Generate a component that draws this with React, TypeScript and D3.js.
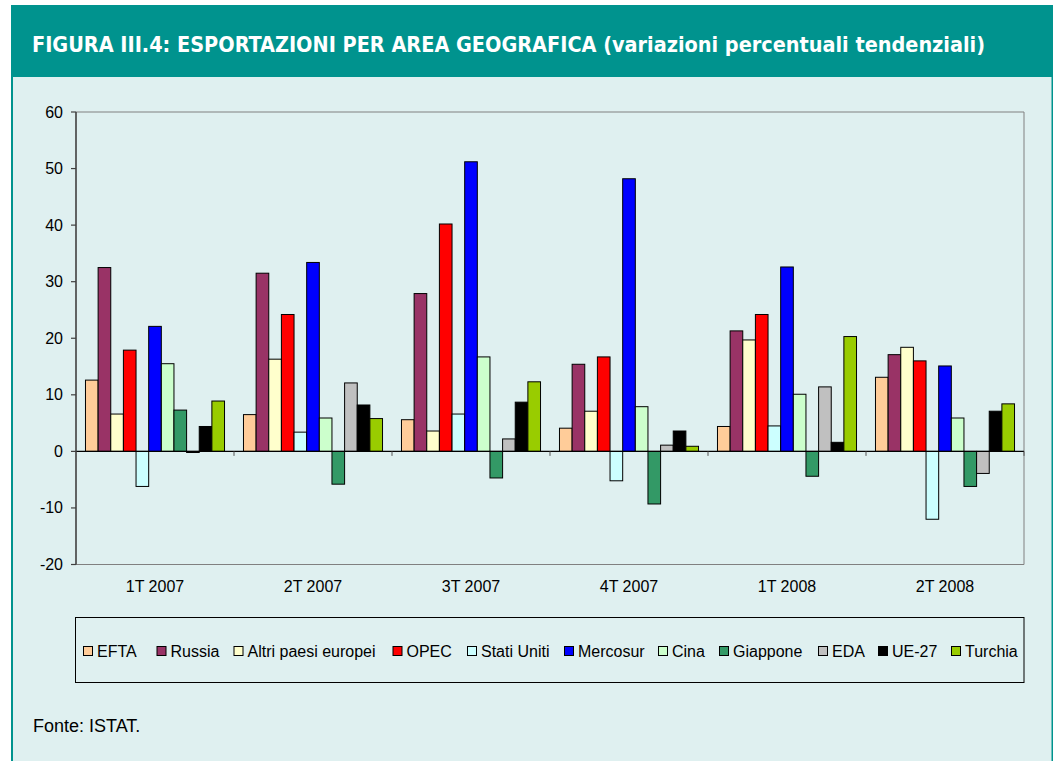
import { scaleBand, scaleLinear } from 'd3';

// quarters on the x axis
const categories = ['1T 2007', '2T 2007', '3T 2007', '4T 2007', '1T 2008', '2T 2008'];
const yTicks = [-20, -10, 0, 10, 20, 30, 40, 50, 60];

// variazioni percentuali tendenziali, one array per area
const efta = [12.6, 6.5, 5.6, 4.1, 4.4, 13.1];
const russia = [32.5, 31.5, 27.9, 15.4, 21.3, 17.1];
const altriPaesiEuropei = [6.6, 16.3, 3.6, 7.1, 19.7, 18.4];
const opec = [17.9, 24.2, 40.2, 16.7, 24.2, 16.0];
const statiUniti = [-6.2, 3.4, 6.6, -5.2, 4.5, -12.0];
const mercosur = [22.1, 33.4, 51.2, 48.2, 32.6, 15.1];
const cina = [15.5, 5.9, 16.7, 7.9, 10.1, 5.9];
const giappone = [7.3, -5.8, -4.7, -9.3, -4.4, -6.2];
const eda = [-0.2, 12.1, 2.2, 1.1, 11.4, -3.9];
const ue27 = [4.4, 8.2, 8.7, 3.6, 1.6, 7.1];
const turchia = [8.9, 5.8, 12.3, 0.9, 20.3, 8.4];

const seriesNames = ['EFTA', 'Russia', 'Altri paesi europei', 'OPEC', 'Stati Uniti', 'Mercosur', 'Cina', 'Giappone', 'EDA', 'UE-27', 'Turchia'];
const seriesValues = [efta, russia, altriPaesiEuropei, opec, statiUniti, mercosur, cina, giappone, eda, ue27, turchia];
const seriesColors = ['#FFCC99', '#993366', '#FFFFCC', '#FF0000', '#CCFFFF', '#0000FF', '#CCFFCC', '#339966', '#C0C0C0', '#000000', '#99CC00'];

// legend swatch x positions (layout of the original legend)
const legendX = [83, 156.5, 233.5, 392.5, 467, 564, 658, 719, 818, 878, 951];

const TEAL = '#00938E';
const LIGHT = '#DFF0F0';
const FONT = '"Liberation Sans", Arial, sans-serif';

const PLOT = { left: 76, right: 1024, top: 112, bottom: 564.5 };

const App = () => {
  const xGroup = scaleBand<string>().domain(categories).range([PLOT.left, PLOT.right]).padding(0);
  const bw = xGroup.bandwidth();
  const xInner = scaleBand<number>()
    .domain(seriesNames.map((_, i) => i))
    .range([bw * 0.06, bw * 0.94])
    .padding(0);
  const y = scaleLinear().domain([-20, 60]).range([PLOT.bottom, PLOT.top]);
  const y0 = y(0);

  return (
    <svg width={1053} height={761} style={{ position: 'absolute', left: 0, top: 0, display: 'block' }}>
      <rect x={0} y={0} width={1053} height={761} fill="#fff" />
      {/* header band */}
      <rect x={11} y={5} width={1042} height={72} fill={TEAL} />
      <text
        x={32}
        y={52}
        fill="#fff"
        fontFamily='"DejaVu Sans Condensed", "DejaVu Sans", sans-serif'
        fontWeight="bold"
        fontSize={21}
        textLength={953}
        lengthAdjust="spacingAndGlyphs"
      >
        FIGURA III.4: ESPORTAZIONI PER AREA GEOGRAFICA (variazioni percentuali tendenziali)
      </text>
      {/* light body with teal side borders */}
      <rect x={11} y={77} width={1042} height={700} fill={LIGHT} />
      <rect x={11} y={77} width={2} height={700} fill={TEAL} />
      <rect x={1051.5} y={77} width={1.5} height={700} fill={TEAL} />

      {/* plot frame */}
      <line x1={PLOT.left} x2={PLOT.right} y1={PLOT.top} y2={PLOT.top} stroke="#808080" />
      <line x1={PLOT.right} x2={PLOT.right} y1={PLOT.top} y2={PLOT.bottom} stroke="#808080" />
      <line x1={PLOT.left} x2={PLOT.right} y1={PLOT.bottom} y2={PLOT.bottom} stroke="#808080" />

      {/* bars */}
      {categories.map((cat, ci) =>
        seriesValues.map((vals, si) => {
          const v = vals[ci];
          const top = y(Math.max(0, v));
          const bot = y(Math.min(0, v));
          return (
            <rect
              key={`${ci}-${si}`}
              x={(xGroup(cat) ?? 0) + (xInner(si) ?? 0)}
              y={top}
              width={xInner.bandwidth()}
              height={Math.max(bot - top, 0.5)}
              fill={seriesColors[si]}
              stroke="#000"
              strokeWidth={1}
            />
          );
        })
      )}

      {/* zero axis with group ticks */}
      <line x1={PLOT.left} x2={PLOT.right} y1={y0} y2={y0} stroke="#000" strokeWidth={1.2} />
      {categories.map((cat) => (
        <line
          key={`t-${cat}`}
          x1={(xGroup(cat) ?? 0) + bw}
          x2={(xGroup(cat) ?? 0) + bw}
          y1={y0}
          y2={y0 + 4.5}
          stroke="#555"
        />
      ))}

      {/* y axis */}
      <line x1={PLOT.left} x2={PLOT.left} y1={PLOT.top} y2={PLOT.bottom} stroke="#404040" strokeWidth={1.6} />
      {yTicks.map((t) => (
        <g key={`y-${t}`}>
          <line x1={PLOT.left - 5} x2={PLOT.left} y1={y(t)} y2={y(t)} stroke="#404040" strokeWidth={1.2} />
          <text x={63} y={y(t) + 5.5} textAnchor="end" fontFamily={FONT} fontSize={16} fill="#000">
            {t}
          </text>
        </g>
      ))}

      {/* category labels */}
      {categories.map((cat) => (
        <text
          key={`c-${cat}`}
          x={(xGroup(cat) ?? 0) + bw / 2}
          y={592}
          textAnchor="middle"
          fontFamily={FONT}
          fontSize={16}
          fill="#000"
        >
          {cat}
        </text>
      ))}

      {/* legend */}
      <rect x={75.5} y={617.5} width={948.5} height={65} fill="none" stroke="#000" strokeWidth={1} />
      {seriesNames.map((name, i) => (
        <g key={`l-${name}`}>
          <rect x={legendX[i] + 0.5} y={646.5} width={9} height={9} fill={seriesColors[i]} stroke="#000" />
          <text x={legendX[i] + 14} y={656.5} fontFamily={FONT} fontSize={16} fill="#000">
            {name}
          </text>
        </g>
      ))}

      <text x={33} y={732} fontFamily={FONT} fontSize={18} fill="#000">
        Fonte: ISTAT.
      </text>
    </svg>
  );
};

export default App;
